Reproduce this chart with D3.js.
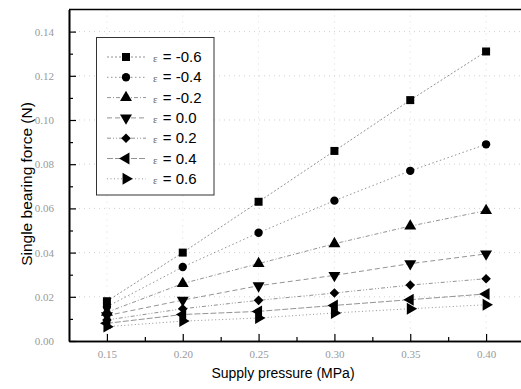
<!DOCTYPE html>
<html>
<head>
<meta charset="utf-8">
<script src="https://cdn.jsdelivr.net/npm/d3@7"></script>
<style>
  body { margin: 0; background: #fff; }
  svg { display: block; }
</style>
</head>
<body>
<div id="chart"></div>
<script>
// supply pressure (MPa)
const pressures = [0.15, 0.20, 0.25, 0.30, 0.35, 0.40];
const epsLabels = ["-0.6", "-0.4", "-0.2", "0.0", "0.2", "0.4", "0.6"];
// single bearing force (N), one array per eccentricity
const forceM06 = [0.018, 0.040, 0.063, 0.086, 0.109, 0.131];
const forceM04 = [0.0155, 0.0335, 0.049, 0.0635, 0.077, 0.089];
const forceM02 = [0.013, 0.026, 0.035, 0.044, 0.052, 0.059];
const forceP00 = [0.0115, 0.0185, 0.025, 0.0297, 0.035, 0.0394];
const forceP02 = [0.0095, 0.0146, 0.0184, 0.0217, 0.0253, 0.0282];
const forceP04 = [0.008, 0.012, 0.0134, 0.0161, 0.0187, 0.0213];
const forceP06 = [0.0065, 0.009, 0.0104, 0.0127, 0.0146, 0.0164];
const xTicks = [0.15, 0.20, 0.25, 0.30, 0.35, 0.40];
const yTicks = [0.00, 0.02, 0.04, 0.06, 0.08, 0.10, 0.12, 0.14];

const series = [forceM06, forceM04, forceM02, forceP00, forceP02, forceP04, forceP06];
// marker shape + rotation, and dash pattern per series
const markers = [
  { sym: d3.symbolSquare, size: 64, rot: 0 },
  { sym: d3.symbolCircle, size: 55, rot: 0 },
  { sym: d3.symbolTriangle, size: 62, rot: 0 },
  { sym: d3.symbolTriangle, size: 62, rot: 180 },
  { sym: d3.symbolSquare, size: 46, rot: 45 },
  { sym: d3.symbolTriangle, size: 62, rot: -90 },
  { sym: d3.symbolTriangle, size: 62, rot: 90 }
];
const dashes = ["2,2", "1.5,2.5", "4,2,1,2", "5,3", "4,2,1,2,1,2", "6,2", "1,2.5"];

const width = 521, height = 389;
const plot = { left: 69, right: 524, top: 9.5, bottom: 341 };

const svg = d3.select("#chart").append("svg")
  .attr("width", width)
  .attr("height", height);

const x = d3.scaleLinear().domain([0.125, 0.425]).range([plot.left, plot.right]);
const y = d3.scaleLinear().domain([0, 0.15]).range([plot.bottom, plot.top]);

// faint dotted grid
const grid = svg.append("g");
grid.selectAll("line.h").data(yTicks.slice(1)).enter().append("line")
  .attr("x1", plot.left).attr("x2", plot.right)
  .attr("y1", d => y(d)).attr("y2", d => y(d))
  .attr("stroke", "#bbb").attr("stroke-width", 0.7).attr("stroke-dasharray", "1,4");
grid.selectAll("line.v").data(xTicks).enter().append("line")
  .attr("x1", d => x(d)).attr("x2", d => x(d))
  .attr("y1", plot.top).attr("y2", plot.bottom)
  .attr("stroke", "#ccc").attr("stroke-width", 0.7).attr("stroke-dasharray", "1,5");

// axes, ticks pointing inward
const yAxis = d3.axisLeft(y).tickValues(yTicks).tickFormat(d3.format(".2f"))
  .tickSizeInner(-7).tickSizeOuter(0).tickPadding(15);
const yMinor = d3.axisLeft(y).tickValues(d3.range(0.01, 0.15, 0.02)).tickFormat("")
  .tickSizeInner(-4).tickSizeOuter(0);
const xAxis = d3.axisBottom(x).tickValues(xTicks).tickFormat(d3.format(".2f"))
  .tickSizeInner(-7).tickSizeOuter(0).tickPadding(9);
const xMinor = d3.axisBottom(x).tickValues([0.175, 0.225, 0.275, 0.325, 0.375, 0.425]).tickFormat("")
  .tickSizeInner(-4).tickSizeOuter(0);

function styleAxis(g) {
  g.select(".domain").attr("stroke", "#000").attr("stroke-width", 1.6);
  g.selectAll(".tick line").attr("stroke", "#000").attr("stroke-width", 1.2);
  g.selectAll(".tick text")
    .attr("fill", "#999")
    .attr("font-family", "Liberation Serif, serif")
    .attr("font-size", 11);
}

svg.append("g").attr("transform", `translate(${plot.left},0)`).call(yMinor).call(styleAxis);
svg.append("g").attr("transform", `translate(${plot.left},0)`).call(yAxis).call(styleAxis);
svg.append("g").attr("transform", `translate(0,${plot.bottom})`).call(xMinor).call(styleAxis);
svg.append("g").attr("transform", `translate(0,${plot.bottom})`).call(xAxis).call(styleAxis);

// top frame
svg.append("line")
  .attr("x1", plot.left).attr("x2", plot.right)
  .attr("y1", plot.top).attr("y2", plot.top)
  .attr("stroke", "#000").attr("stroke-width", 1.6);

// series lines + markers
const line = d3.line().x((d, i) => x(pressures[i])).y(d => y(d));
const symbolFor = m => d3.symbol().type(m.sym).size(m.size);

series.forEach((vals, s) => {
  svg.append("path")
    .datum(vals)
    .attr("d", line)
    .attr("fill", "none")
    .attr("stroke", "#777")
    .attr("stroke-width", 0.8)
    .attr("stroke-dasharray", dashes[s]);
});
series.forEach((vals, s) => {
  const m = markers[s];
  svg.append("g").selectAll("path").data(vals).enter().append("path")
    .attr("d", symbolFor(m))
    .attr("transform", (d, i) => `translate(${x(pressures[i])},${y(d)}) rotate(${m.rot})`)
    .attr("fill", "#000");
});

// legend
const legend = svg.append("g");
legend.append("rect")
  .attr("x", 96.5).attr("y", 37.5).attr("width", 117.5).attr("height", 157.5)
  .attr("fill", "#fff").attr("stroke", "#333").attr("stroke-width", 1);

epsLabels.forEach((lab, s) => {
  const ly = 57 + s * 20.3;
  legend.append("line")
    .attr("x1", 107).attr("x2", 146).attr("y1", ly).attr("y2", ly)
    .attr("stroke", "#777").attr("stroke-width", 0.8)
    .attr("stroke-dasharray", dashes[s]);
  legend.append("path")
    .attr("d", symbolFor(markers[s]))
    .attr("transform", `translate(126,${ly}) rotate(${markers[s].rot})`)
    .attr("fill", "#000");
  const t = legend.append("text")
    .attr("x", 153).attr("y", ly + 5)
    .attr("font-family", "Liberation Sans, Arial, sans-serif")
    .attr("font-size", 15)
    .attr("fill", "#000");
  t.append("tspan").text("ε").attr("font-size", 11).attr("fill", "#666")
    .attr("font-family", "Liberation Serif, serif");
  t.append("tspan").text(" = " + lab).attr("dx", 1);
});

// axis titles
svg.append("text")
  .attr("x", 283).attr("y", 378)
  .attr("text-anchor", "middle")
  .attr("font-family", "Liberation Sans, Arial, sans-serif")
  .attr("font-size", 14)
  .text("Supply pressure (MPa)");

svg.append("text")
  .attr("transform", "translate(32,184) rotate(-90)")
  .attr("text-anchor", "middle")
  .attr("font-family", "Liberation Sans, Arial, sans-serif")
  .attr("font-size", 15.5)
  .text("Single bearing force (N)");
</script>
</body>
</html>
